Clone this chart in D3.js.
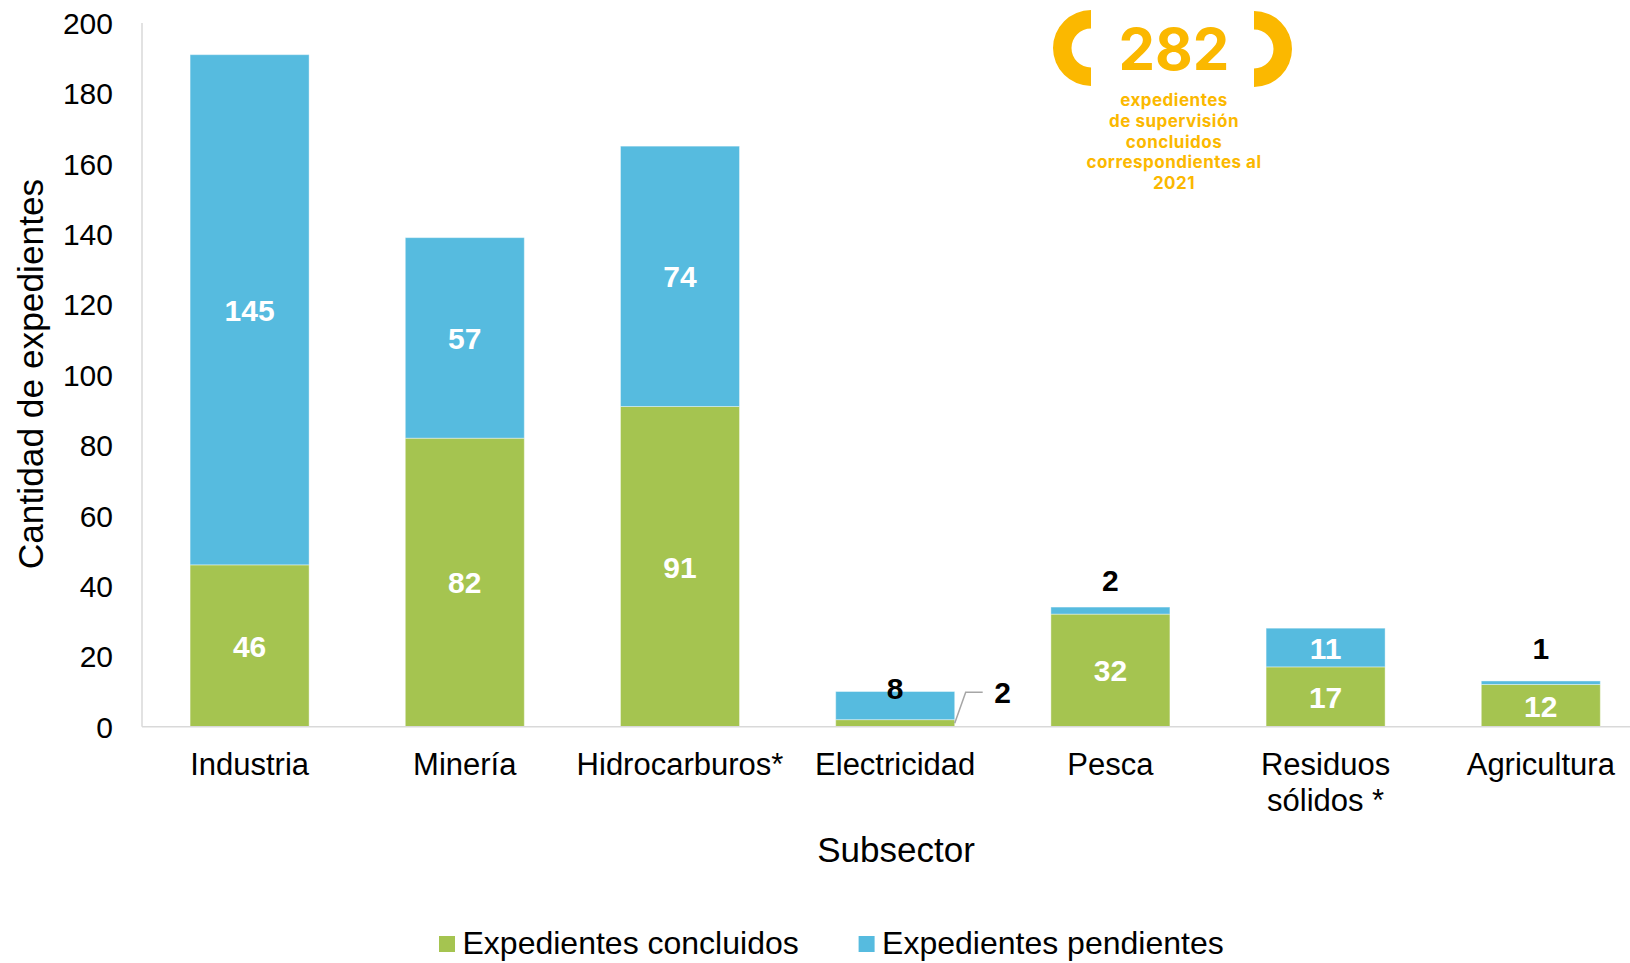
<!DOCTYPE html>
<html>
<head>
<meta charset="utf-8">
<script src="https://cdn.jsdelivr.net/npm/d3@7"></script>
<style>
    body { margin: 0; background: #ffffff; }
    #my_dataviz text { font-family: "Liberation Sans", Arial, sans-serif; }
    #my_dataviz .badge text { font-family: Inter, "Open Sans", sans-serif; }
</style>
</head>
<body>
<div id="my_dataviz"><svg></svg></div>
<script>
// data
var subsectores = ["Industria", "Minería", "Hidrocarburos*", "Electricidad", "Pesca", "Residuos sólidos *", "Agricultura"];
var concluidos = [46, 82, 91, 2, 32, 17, 12];
var pendientes = [145, 57, 74, 8, 2, 11, 1];
var yTicks = [0, 20, 40, 60, 80, 100, 120, 140, 160, 180, 200];
var totalConcluidos = 282;
var badgeLines = ["expedientes", "de supervisión", "concluidos", "correspondientes al", "2021"];
var legendLabels = ["Expedientes concluidos", "Expedientes pendientes"];

// label placement: "in" = white centred in segment, "top" = black above bar, "leader" = black with line
var concluidosLabelMode = ["in", "in", "in", "leader", "in", "in", "in"];
var pendientesLabelMode = ["in", "in", "in", "top", "top", "in", "top"];
var pendientesTopGap = [0, 0, 0, 4, 27, 0, 33];

var width = 1630, height = 963;
var colorConcluidos = "#a5c450";
var colorPendientes = "#56bbdf";
var colorBadge = "#fbb800";

var svg = d3.select("#my_dataviz")
    .select("svg")
    .attr("width", width)
    .attr("height", height);

var plotLeft = 142;
var step = 215.2;

var xAxis = d3.scaleBand()
    .domain(subsectores)
    .range([plotLeft, plotLeft + step * subsectores.length])
    .paddingInner(0.447)
    .paddingOuter(0.2235);

var yAxis = d3.scaleLinear()
    .domain([0, 200])
    .range([726.7, 23]);

/* tick labels */
svg.append("g")
    .selectAll("text")
    .data(yTicks)
    .enter()
    .append("text")
    .attr("x", 113)
    .attr("y", function (d) { return yAxis(d) + 11; })
    .attr("text-anchor", "end")
    .attr("font-size", 30)
    .attr("fill", "#000")
    .text(function (d) { return d; });

/* stacked bars */
var rows = subsectores.map(function (s, i) {
    return { name: s, c: concluidos[i], p: pendientes[i], i: i };
});

var bars = svg.append("g");
bars.selectAll(".conc")
    .data(rows)
    .enter()
    .append("rect")
    .attr("class", "conc")
    .attr("x", function (d) { return xAxis(d.name); })
    .attr("y", function (d) { return yAxis(d.c); })
    .attr("width", xAxis.bandwidth())
    .attr("height", function (d) { return yAxis(0) - yAxis(d.c); })
    .attr("fill", colorConcluidos);

bars.selectAll(".pend")
    .data(rows)
    .enter()
    .append("rect")
    .attr("class", "pend")
    .attr("x", function (d) { return xAxis(d.name); })
    .attr("y", function (d) { return yAxis(d.c + d.p); })
    .attr("width", xAxis.bandwidth())
    .attr("height", function (d) { return yAxis(d.c) - yAxis(d.c + d.p); })
    .attr("fill", colorPendientes);

bars.selectAll("rect")
    .attr("stroke", "#ffffff")
    .attr("stroke-opacity", 0.4)
    .attr("stroke-width", 1);

/* axis lines */
svg.append("line")
    .attr("x1", plotLeft).attr("x2", plotLeft)
    .attr("y1", yAxis(200)).attr("y2", yAxis(0))
    .attr("style", "stroke:#d9d9d9;stroke-width:1.5px");
svg.append("line")
    .attr("x1", plotLeft).attr("x2", width)
    .attr("y1", yAxis(0)).attr("y2", yAxis(0))
    .attr("style", "stroke:#d9d9d9;stroke-width:1.5px");

/* value labels */
var labels = svg.append("g")
    .attr("font-size", 30)
    .attr("font-weight", "bold")
    .attr("text-anchor", "middle");

rows.forEach(function (d) {
    var cx = xAxis(d.name) + xAxis.bandwidth() / 2;
    var mode = concluidosLabelMode[d.i];
    if (mode == "in") {
        labels.append("text")
            .attr("x", cx)
            .attr("y", yAxis(d.c / 2) + 11)
            .attr("fill", "#fff")
            .text(d.c);
    } else {
        var bx = xAxis(d.name) + xAxis.bandwidth();
        var by = yAxis(d.c / 2);
        svg.append("polyline")
            .attr("points", [[bx, by], [bx + 11, by - 31], [bx + 28, by - 31]].join(" "))
            .attr("fill", "none")
            .attr("style", "stroke:#a6a6a6;stroke-width:1.5px");
        labels.append("text")
            .attr("x", bx + 48)
            .attr("y", by - 31 + 11)
            .attr("fill", "#000")
            .text(d.c);
    }

    mode = pendientesLabelMode[d.i];
    if (mode == "in") {
        labels.append("text")
            .attr("x", cx)
            .attr("y", yAxis(d.c + d.p / 2) + 11)
            .attr("fill", "#fff")
            .text(d.p);
    } else {
        labels.append("text")
            .attr("x", cx)
            .attr("y", yAxis(d.c + d.p) - pendientesTopGap[d.i] + 11)
            .attr("fill", "#000")
            .text(d.p);
    }
});

/* category labels, wrapped on the space before "sólidos" */
svg.append("g")
    .selectAll("text")
    .data(subsectores)
    .enter()
    .append("text")
    .attr("x", function (d) { return xAxis(d) + xAxis.bandwidth() / 2; })
    .attr("y", 775)
    .attr("text-anchor", "middle")
    .attr("font-size", 31)
    .attr("fill", "#000")
    .each(function (d) {
        var parts = d == "Residuos sólidos *" ? ["Residuos", "sólidos *"] : [d];
        var t = d3.select(this);
        parts.forEach(function (p, k) {
            t.append("tspan")
                .attr("x", xAxis(d) + xAxis.bandwidth() / 2)
                .attr("dy", k == 0 ? 0 : 36)
                .text(p);
        });
    });

/* axis titles */
svg.append("text")
    .attr("x", 896)
    .attr("y", 862)
    .attr("text-anchor", "middle")
    .attr("font-size", 35)
    .text("Subsector");

svg.append("text")
    .attr("transform", "translate(43,374) rotate(-90)")
    .attr("text-anchor", "middle")
    .attr("font-size", 35.3)
    .text("Cantidad de expedientes");

/* legend */
var legendX = [439, 858.6];
var legendColors = [colorConcluidos, colorPendientes];
var legend = svg.append("g");
legendLabels.forEach(function (l, i) {
    legend.append("rect")
        .attr("x", legendX[i])
        .attr("y", 936)
        .attr("width", 16)
        .attr("height", 16)
        .attr("fill", legendColors[i]);
    legend.append("text")
        .attr("x", legendX[i] + 23.5)
        .attr("y", 954)
        .attr("font-size", 32)
        .text(l);
});

/* 282 badge */
var badge = svg.append("g").attr("class", "badge");
var bracket = d3.arc().innerRadius(19.5).outerRadius(38);
badge.append("path")
    .attr("transform", "translate(1091,48)")
    .attr("d", bracket({ startAngle: Math.PI, endAngle: 2 * Math.PI }))
    .attr("fill", colorBadge);
badge.append("path")
    .attr("transform", "translate(1254,49)")
    .attr("d", bracket({ startAngle: 0, endAngle: Math.PI }))
    .attr("fill", colorBadge);

badge.append("text")
    .attr("x", 1174)
    .attr("y", 70)
    .attr("text-anchor", "middle")
    .attr("font-size", 58)
    .attr("font-weight", "bold")
    .attr("fill", colorBadge)
    .text(totalConcluidos);

badge.selectAll(".sub")
    .data(badgeLines)
    .enter()
    .append("text")
    .attr("class", "sub")
    .attr("x", 1174)
    .attr("y", function (d, i) { return 106 + i * 20.8; })
    .attr("text-anchor", "middle")
    .attr("font-size", 17)
    .attr("font-weight", "bold")
    .attr("letter-spacing", 0.5)
    .attr("fill", colorBadge)
    .text(function (d) { return d; });
</script>
</body>
</html>
